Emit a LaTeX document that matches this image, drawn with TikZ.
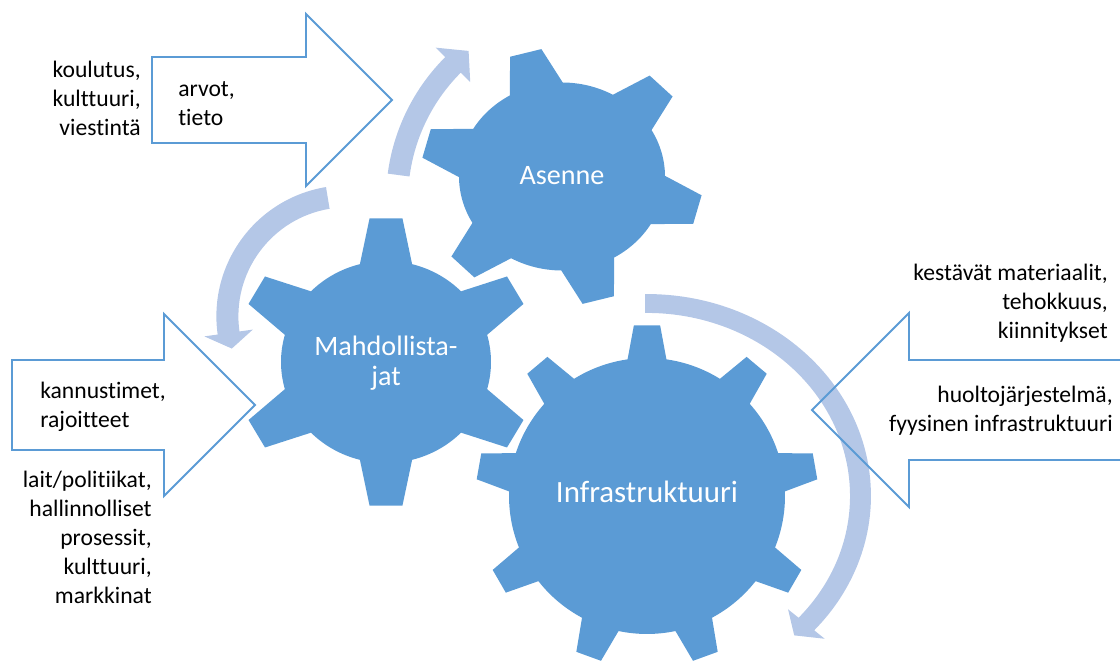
\documentclass[tikz,border=0pt]{standalone}
\usepackage{fontspec}
\setmainfont{Carlito}[Ligatures={NoCommon}]
\definecolor{gearblue}{HTML}{5B9BD5}
\definecolor{ringblue}{HTML}{B4C7E7}

% gear on the unit circle: teeth, first tooth angle, tip radius,
% half angle at the root, half angle at the tip
\newcommand{\gearshape}[5]{%
  \fill[cog] (#2-#4:1)
    \foreach \k [evaluate=\k as \ang using #2+(\k-1)*360/#1] in {1,...,#1}{
      -- (\ang-#4:1) -- (\ang-#5:#3) -- (\ang+#5:#3) -- (\ang+#4:1)
      arc[start angle=\ang+#4, end angle=\ang+360/#1-#4, radius=1]
    } -- cycle;}

% bent arrow on the unit circle: start angle, head angle, tip angle,
% half shaft width, half head width
\newcommand{\turnarrow}[5]{%
  \pgfmathsetmacro\ro{1+#4}\pgfmathsetmacro\ri{1-#4}%
  \pgfmathsetmacro\ho{1+#5}\pgfmathsetmacro\hi{1-#5}%
  \fill[turn] (#1:\ro) arc[start angle=#1, end angle=#2, radius=\ro]
    -- (#2:\ho) -- (#3:1) -- (#2:\hi) -- (#2:\ri)
    arc[start angle=#2, end angle=#1, radius=\ri] -- cycle;}

\begin{document}
\begin{tikzpicture}[
    x=0.025cm, y=0.025cm,
    cog/.style={fill=gearblue},
    turn/.style={fill=ringblue},
    block/.style={draw=gearblue, line width=1.4pt},
    cogtext/.style={text=white, align=center, inner sep=0pt},
    side/.style={font=\fontsize{16.8}{20.6}\selectfont, inner sep=0pt}
  ]
  \clip (0,0) rectangle (1120,662);

  % turning arrows
  \begin{scope}[shift={(588,462)}, scale=191]
    \turnarrow{172.5}{135}{128.7}{0.0576}{0.128}
  \end{scope}
  \begin{scope}[shift={(347.4,345.7)}, scale=120]
    \turnarrow{99.4}{188}{195.6}{0.0917}{0.204}
  \end{scope}
  \begin{scope}[shift={(647,166)}, xscale=213.5, yscale=192.5]
    \turnarrow{90.5}{-41.7}{-46.4}{0.049}{0.115}
  \end{scope}

  % gears
  \begin{scope}[shift={(562,485.5)}, xscale=103, yscale=94]
    \gearshape{6}{45}{1.37}{15.4}{6.6}
  \end{scope}
  \begin{scope}[shift={(386,300)}, xscale=105, yscale=101]
    \gearshape{6}{30}{1.43}{14.4}{6.3}
  \end{scope}
  \begin{scope}[shift={(647,166)}, scale=138]
    \gearshape{9}{10}{1.24}{8.1}{4.4}
  \end{scope}

  \node[cogtext, font=\fontsize{20}{21.3}\selectfont] (asenne) at (562,486) {Asenne};
  \node[cogtext, font=\fontsize{20}{21.3}\selectfont] (mahd) at (386,299) {Mahdollista-\\jat};
  \node[cogtext, font=\fontsize{22}{24}\selectfont] (infra) at (647,170) {Infrastruktuuri};

  % block arrows
  \draw[block] (152,519) -- (306,519) -- (306,476) -- (392,562)
    -- (306,648) -- (306,605) -- (152,605) -- cycle;
  \draw[block] (12,212) -- (164,212) -- (164,166) -- (255,257)
    -- (164,348) -- (164,302) -- (12,302) -- cycle;
  \draw[block] (1130,202) -- (909,202) -- (909,155) -- (812,252)
    -- (909,349) -- (909,302) -- (1130,302);

  \node[side, anchor=east, align=right] (keinot) at (141,564) {koulutus,\\kulttuuri,\\viestintä};
  \node[side, anchor=west, align=left] (arvot) at (178,558) {arvot,\\tieto};
  \node[side, anchor=west, align=left] (kannust) at (40,255) {kannustimet,\\rajoitteet};
  \node[side, anchor=east, align=right] (lait) at (152,125) {lait/politiikat,\\hallinnolliset\\prosessit,\\kulttuuri,\\markkinat};
  \node[side, anchor=east, align=right] (kestavat) at (1108,359) {kestävät materiaalit,\\tehokkuus,\\kiinnitykset};
  \node[side, anchor=east, align=right] (huolto) at (1113,251) {huoltojärjestelmä,\\fyysinen infrastruktuuri};
\end{tikzpicture}
\end{document}
